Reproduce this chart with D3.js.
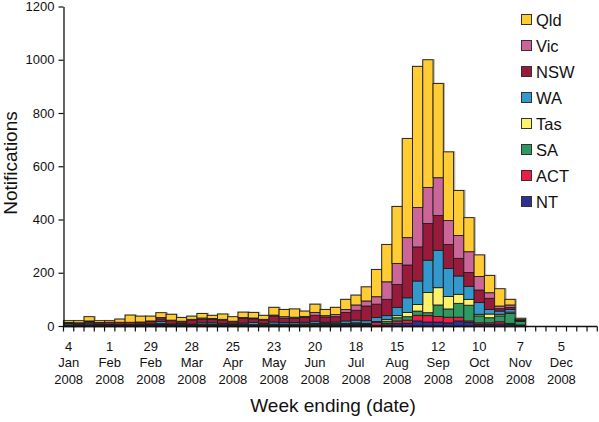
<!DOCTYPE html>
<html>
<head>
<meta charset="utf-8">
<script src="https://cdn.jsdelivr.net/npm/d3@7"></script>
<style>
  body { margin: 0; background: #fff; }
  svg { display: block; font-family: "Liberation Sans", Arial, sans-serif; }
</style>
</head>
<body>
<div id="app"></div>
<script>
// week ending dates, 2008
const weeks = [
  '2008-01-04', '2008-01-11', '2008-01-18', '2008-01-25',
  '2008-02-01', '2008-02-08', '2008-02-15', '2008-02-22', '2008-02-29',
  '2008-03-07', '2008-03-14', '2008-03-21', '2008-03-28',
  '2008-04-04', '2008-04-11', '2008-04-18', '2008-04-25',
  '2008-05-02', '2008-05-09', '2008-05-16', '2008-05-23', '2008-05-30',
  '2008-06-06', '2008-06-13', '2008-06-20', '2008-06-27',
  '2008-07-04', '2008-07-11', '2008-07-18', '2008-07-25',
  '2008-08-01', '2008-08-08', '2008-08-15', '2008-08-22', '2008-08-29',
  '2008-09-05', '2008-09-12', '2008-09-19', '2008-09-26',
  '2008-10-03', '2008-10-10', '2008-10-17', '2008-10-24', '2008-10-31',
  '2008-11-07', '2008-11-14', '2008-11-21', '2008-11-28',
  '2008-12-05', '2008-12-12', '2008-12-19', '2008-12-26'
];

const qld = [7, 8, 16, 7, 6, 12, 27, 22, 18, 18, 22, 14, 12, 17, 12, 20, 17, 20, 21, 15, 29, 27, 31, 20, 31, 23,
  27, 38, 37, 53, 102, 140, 214, 372, 530, 480, 354, 258, 169, 128, 81, 65, 65, 21, 5, 0, 0, 0, 0, 0, 0, 0];
const vic = [1, 1, 3, 1, 1, 1, 1, 2, 2, 5, 2, 2, 2, 5, 3, 2, 2, 3, 3, 3, 4, 6, 4, 4, 11, 5,
  8, 11, 20, 19, 28, 66, 79, 103, 148, 135, 142, 90, 86, 78, 51, 21, 10, 9, 1, 0, 0, 0, 0, 0, 0, 0];
const nsw = [3, 6, 5, 6, 7, 8, 8, 6, 9, 10, 12, 7, 16, 13, 13, 14, 8, 18, 14, 13, 22, 16, 16, 18, 22, 20,
  20, 32, 37, 55, 50, 61, 86, 123, 128, 138, 131, 90, 66, 52, 47, 42, 9, 8, 3, 0, 0, 0, 0, 0, 0, 0];
const wa = [5, 1, 6, 1, 1, 1, 1, 2, 3, 8, 3, 4, 3, 6, 6, 4, 3, 5, 8, 4, 8, 6, 6, 6, 8, 5,
  6, 9, 10, 10, 15, 14, 31, 55, 88, 121, 140, 105, 69, 49, 44, 17, 12, 10, 1, 0, 0, 0, 0, 0, 0, 0];
const tas = [0, 0, 0, 0, 0, 0, 0, 0, 0, 1, 0, 0, 0, 0, 1, 0, 0, 0, 0, 0, 1, 1, 1, 2, 3, 2,
  2, 1, 2, 2, 2, 7, 8, 16, 25, 76, 65, 47, 34, 22, 6, 14, 6, 5, 2, 0, 0, 0, 0, 0, 0, 0];
const sa = [1, 1, 1, 1, 1, 1, 1, 1, 1, 3, 1, 1, 1, 2, 1, 1, 1, 1, 1, 1, 2, 2, 2, 2, 2, 2,
  2, 3, 4, 3, 1, 8, 12, 13, 16, 11, 43, 31, 52, 59, 26, 19, 22, 37, 13, 0, 0, 0, 0, 0, 0, 0];
const act = [0, 0, 1, 1, 1, 0, 0, 1, 1, 1, 1, 1, 0, 1, 1, 1, 1, 2, 1, 1, 1, 1, 1, 1, 1, 1,
  1, 2, 2, 1, 11, 6, 10, 12, 21, 24, 21, 21, 14, 6, 6, 6, 8, 4, 1, 0, 0, 0, 0, 0, 0, 0];
const nt = [3, 3, 3, 3, 3, 3, 3, 3, 3, 4, 3, 3, 3, 3, 3, 3, 3, 3, 3, 3, 3, 3, 3, 3, 4, 4,
  4, 4, 4, 4, 3, 4, 9, 10, 19, 15, 15, 12, 19, 13, 6, 6, 8, 6, 3, 0, 0, 0, 0, 0, 0, 0];

// stacking order, bottom first
const states = ['NT', 'ACT', 'SA', 'Tas', 'WA', 'NSW', 'Vic', 'Qld'];
const legendOrder = ['Qld', 'Vic', 'NSW', 'WA', 'Tas', 'SA', 'ACT', 'NT'];
const yTicks = [0, 200, 400, 600, 800, 1000, 1200];

const colors = {
  Qld: '#ffcc33', Vic: '#cc6699', NSW: '#991b3b', WA: '#3399cc',
  Tas: '#fff26b', SA: '#2e9960', ACT: '#ee1d43', NT: '#2e3192'
};

const series = { Qld: qld, Vic: vic, NSW: nsw, WA: wa, Tas: tas, SA: sa, ACT: act, NT: nt };
const table = weeks.map((w, i) => {
  const row = { week: w };
  states.forEach(s => { row[s] = series[s][i]; });
  return row;
});

const width = 599;
const height = 422;
const margin = { left: 63.5, right: 1.7, top: 6.5, bottom: 96 };

const parse = d3.timeParse('%Y-%m-%d');
const x = d3.scaleBand(weeks, [margin.left, width - margin.right]);
const y = d3.scaleLinear([0, 1200], [height - margin.bottom, margin.top]);

const svg = d3.select('#app').append('svg').attr('width', width).attr('height', height);

const stacked = d3.stack().keys(states)(table);
const totals = table.map(d => d3.sum(states, s => d[s]));

// soft shadow behind each column
svg.append('g')
  .selectAll('rect')
  .data(weeks.filter((w, i) => totals[i] > 0))
  .join('rect')
  .attr('x', d => x(d) + 0.5)
  .attr('y', d => y(totals[weeks.indexOf(d)]) + 0.5)
  .attr('width', x.bandwidth())
  .attr('height', d => y(0) - y(totals[weeks.indexOf(d)]))
  .attr('fill', 'none')
  .attr('stroke', '#9a9a9a')
  .attr('stroke-width', 2.5)
  .attr('stroke-opacity', 0.7);

// bars
svg.append('g')
  .selectAll('g')
  .data(stacked)
  .join('g')
  .attr('fill', d => colors[d.key])
  .selectAll('rect')
  .data(d => d.filter(p => p[1] - p[0] > 0))
  .join('rect')
  .attr('x', d => x(d.data.week))
  .attr('y', d => y(d[1]))
  .attr('width', x.bandwidth())
  .attr('height', d => y(d[0]) - y(d[1]))
  .attr('stroke', '#1e1e1e')
  .attr('stroke-width', 0.9);

// y axis
const yAxis = svg.append('g')
  .attr('transform', `translate(${margin.left},0)`)
  .call(d3.axisLeft(y).tickValues(yTicks).tickFormat(d3.format('d'))
    .tickSize(5).tickPadding(4).tickSizeOuter(0));
yAxis.select('.domain').attr('stroke', '#111').attr('stroke-width', 1.3);
yAxis.selectAll('.tick line').attr('stroke', '#111').attr('stroke-width', 1.2);
yAxis.selectAll('.tick text').attr('font-size', 13).attr('fill', '#111')
  .attr('font-family', '"Liberation Sans", Arial, sans-serif');

// x axis
const xg = svg.append('g');
xg.append('line')
  .attr('x1', margin.left).attr('x2', width - margin.right)
  .attr('y1', y(0) + 0.5).attr('y2', y(0) + 0.5)
  .attr('stroke', '#111').attr('stroke-width', 1.3);
xg.selectAll('line.tick')
  .data(weeks.concat(['end']))
  .join('line')
  .attr('class', 'tick')
  .attr('x1', d => d === 'end' ? x.range()[1] : x(d))
  .attr('x2', d => d === 'end' ? x.range()[1] : x(d))
  .attr('y1', y(0) + 0.5)
  .attr('y2', y(0) + 5.5)
  .attr('stroke', '#111')
  .attr('stroke-width', 1.2);

const fmt = [d3.timeFormat('%-d'), d3.timeFormat('%b'), d3.timeFormat('%Y')];
const labelWeeks = weeks.filter((w, i) => i % 4 === 0);
const xLabels = xg.selectAll('text')
  .data(labelWeeks)
  .join('text')
  .attr('text-anchor', 'middle')
  .attr('font-size', 13)
  .attr('fill', '#111')
  .attr('transform', d => `translate(${x(d) + x.bandwidth() / 2},0)`);
xLabels.selectAll('tspan')
  .data(d => fmt.map(f => f(parse(d))))
  .join('tspan')
  .attr('x', 0)
  .attr('y', (d, i) => 351 + i * 16.3)
  .text(d => d);

// axis titles
svg.append('text')
  .attr('transform', 'translate(17,163) rotate(-90)')
  .attr('text-anchor', 'middle')
  .attr('font-size', 19)
  .attr('fill', '#111')
  .text('Notifications');

svg.append('text')
  .attr('x', 333)
  .attr('y', 412)
  .attr('text-anchor', 'middle')
  .attr('font-size', 19)
  .attr('fill', '#111')
  .text('Week ending (date)');

// legend
const legend = svg.append('g')
  .selectAll('g')
  .data(legendOrder)
  .join('g')
  .attr('transform', (d, i) => `translate(521.5,${14.5 + i * 26})`);
legend.append('rect')
  .attr('width', 10).attr('height', 10)
  .attr('fill', d => colors[d])
  .attr('stroke', '#333').attr('stroke-width', 1);
legend.append('text')
  .attr('x', 14.5)
  .attr('y', 11)
  .attr('font-size', 16.5)
  .attr('fill', '#111')
  .text(d => d);
</script>
</body>
</html>
